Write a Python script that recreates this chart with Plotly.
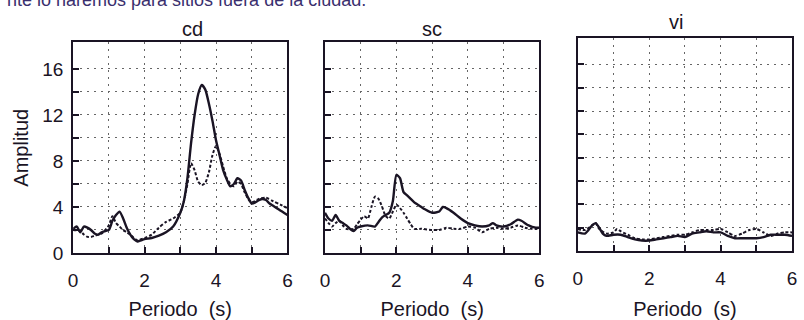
import plotly.graph_objects as go

# ---- data ----
cd_x_solid = [0, 0.1, 0.2, 0.3, 0.4, 0.5, 0.6, 0.7, 0.8, 0.9, 1.0, 1.1, 1.2, 1.3, 1.4, 1.5, 1.6, 1.7, 1.8, 1.9,
              2.0, 2.2, 2.4, 2.6, 2.8, 3.0, 3.1, 3.2, 3.3, 3.4, 3.5, 3.6, 3.7, 3.8, 3.9, 4.0, 4.1, 4.2, 4.3, 4.4,
              4.5, 4.6, 4.7, 4.8, 4.9, 5.0, 5.1, 5.2, 5.3, 5.4, 5.5, 5.6, 5.7, 5.8, 5.9, 6.0]
cd_y_solid = [2.1, 2.3, 1.8, 2.3, 2.2, 2.0, 1.7, 1.6, 1.8, 1.9, 2.0, 2.8, 3.3, 3.6, 3.0, 2.2, 1.6, 1.2, 1.0, 1.1,
              1.2, 1.3, 1.5, 1.8, 2.3, 3.5, 4.5, 6.5, 9.5, 12.0, 13.8, 14.6, 14.2, 13.0, 11.5, 9.8, 8.5, 7.2, 6.4, 5.8,
              6.0, 6.5, 6.3, 5.5, 4.8, 4.3, 4.4, 4.6, 4.7, 4.6, 4.3, 4.1, 3.9, 3.7, 3.5, 3.3]
cd_x_dash = [0, 0.2, 0.3, 0.4, 0.5, 0.6, 0.8, 1.0, 1.1, 1.2, 1.3, 1.4, 1.5, 1.6, 1.7, 1.8, 2.0, 2.2, 2.4, 2.6,
             2.8, 3.0, 3.1, 3.2, 3.3, 3.4, 3.5, 3.6, 3.7, 3.8, 3.9, 4.0, 4.1, 4.2, 4.3, 4.4, 4.5, 4.6, 4.7, 4.8,
             4.9, 5.0, 5.2, 5.4, 5.6, 5.8, 6.0]
cd_y_dash = [2.0, 1.9, 1.6, 1.4, 1.4, 1.5, 1.7, 2.4, 3.2, 2.6, 2.3, 2.0, 1.8, 1.6, 1.3, 1.1, 1.3, 1.6, 2.2, 2.7,
             3.0, 3.5, 4.5, 6.0, 7.8, 7.2, 6.2, 5.9, 6.1, 7.0, 8.5, 9.3, 8.6, 7.5, 6.5, 6.0, 5.8, 6.2, 6.0, 5.3,
             4.7, 4.4, 4.7, 4.8, 4.5, 4.2, 3.9]

sc_x_solid = [0, 0.1, 0.2, 0.3, 0.4, 0.5, 0.6, 0.7, 0.8, 0.9, 1.0, 1.2, 1.4, 1.5, 1.6, 1.7, 1.8, 1.9, 2.0, 2.1,
              2.2, 2.3, 2.4, 2.5, 2.6, 2.8, 3.0, 3.2, 3.3, 3.4, 3.6, 3.8, 4.0, 4.2, 4.4, 4.6, 4.7, 4.8, 5.0, 5.2,
              5.4, 5.5, 5.7, 5.9, 6.0]
sc_y_solid = [3.5, 3.0, 2.8, 3.3, 2.8, 2.6, 2.4, 2.1, 1.9, 2.2, 2.3, 2.4, 2.3, 2.7, 3.1, 3.3, 3.5, 4.5, 6.8, 6.5,
              5.3, 5.0, 4.7, 4.4, 4.2, 3.8, 3.5, 3.6, 4.0, 3.9, 3.5, 3.0, 2.6, 2.4, 2.3, 2.4, 2.6, 2.4, 2.3, 2.5,
              2.9, 2.8, 2.4, 2.2, 2.2]
sc_x_dash = [0, 0.1, 0.2, 0.3, 0.4, 0.5, 0.6, 0.8, 0.9, 1.0, 1.1, 1.2, 1.3, 1.4, 1.5, 1.6, 1.7, 1.8, 1.9, 2.0,
             2.1, 2.2, 2.3, 2.4, 2.5, 2.7, 3.0, 3.2, 3.4, 3.6, 3.8, 4.0, 4.2, 4.4, 4.6, 4.8, 5.0, 5.2, 5.4, 5.6,
             5.8, 6.0]
sc_y_dash = [3.0, 2.6, 2.3, 2.6, 2.8, 2.4, 2.1, 2.1, 2.5, 2.9, 3.2, 3.0, 4.0, 4.9, 4.7, 4.0, 3.2, 3.0, 3.6, 4.2,
             3.9, 3.5, 3.0, 2.5, 2.1, 2.1, 2.0, 2.0, 2.2, 2.1, 2.1, 2.3, 2.2, 1.8, 2.1, 2.2, 2.1, 2.2, 2.4, 2.2,
             2.1, 2.1]

vi_x_solid = [0, 0.2, 0.3, 0.4, 0.5, 0.6, 0.7, 0.8, 1.0, 1.2, 1.4, 1.6, 1.8, 2.0, 2.2, 2.4, 2.6, 2.8, 3.0, 3.2,
              3.4, 3.6, 3.8, 4.0, 4.2, 4.4, 4.6, 4.8, 5.0, 5.2, 5.4, 5.6, 5.8, 6.0]
vi_y_solid = [1.6, 1.5, 1.8, 2.2, 2.4, 2.0, 1.5, 1.3, 1.4, 1.4, 1.2, 1.0, 0.9, 0.9, 1.0, 1.1, 1.2, 1.3, 1.2, 1.5,
              1.6, 1.7, 1.6, 1.6, 1.3, 1.1, 1.1, 1.1, 1.1, 1.2, 1.4, 1.4, 1.4, 1.3]
vi_x_dash = [0, 0.2, 0.4, 0.5, 0.6, 0.8, 1.0, 1.1, 1.2, 1.4, 1.6, 1.8, 2.0, 2.4, 2.8, 3.0, 3.2, 3.4, 3.6, 3.8,
             4.0, 4.2, 4.4, 4.6, 4.8, 5.0, 5.2, 5.4, 5.6, 5.8, 6.0]
vi_y_dash = [1.9, 1.8, 2.2, 2.4, 1.9, 1.5, 1.6, 1.9, 1.7, 1.4, 1.1, 1.0, 1.0, 1.2, 1.4, 1.4, 1.6, 1.8, 1.8, 1.8,
             1.9, 1.6, 1.3, 1.5, 1.8, 1.9, 1.6, 1.3, 1.5, 1.6, 1.6]

panel_titles = ["cd", "sc", "vi"]
x_tick_vals = [0, 1, 2, 3, 4, 5, 6]
x_tick_text = ["0", "", "2", "", "4", "", "6"]
y_tick_vals = [0, 2, 4, 6, 8, 10, 12, 14, 16]
y_tick_text = ["0", "", "4", "", "8", "", "12", "", "16"]
x_title = "Periodo  (s)"
y_title = "Amplitud"
header_text = "nte lo haremos para sitios fuera de la ciudad."

FONT = "Liberation Sans, Arial, sans-serif"
INK = "#1a1424"

fig = go.Figure()

series = [
    (cd_x_solid, cd_y_solid, cd_x_dash, cd_y_dash),
    (sc_x_solid, sc_y_solid, sc_x_dash, sc_y_dash),
    (vi_x_solid, vi_y_solid, vi_x_dash, vi_y_dash),
]
x_domains = [[69 / 804, 286 / 804], [324 / 804, 541 / 804], [580 / 804, 797 / 804]]
y_domains = [[58 / 320, 276 / 320], [58 / 320, 276 / 320], [60 / 320, 281 / 320]]
title_y = [290 / 320, 290 / 320, 297 / 320]

for i, (xs, ys, xd, yd) in enumerate(series):
    n = "" if i == 0 else str(i + 1)
    fig.add_trace(go.Scatter(x=xd, y=yd, mode="lines", xaxis="x" + n, yaxis="y" + n,
                             line=dict(color=INK, width=2, dash="3px,2px", shape="spline", smoothing=0.6),
                             showlegend=False))
    fig.add_trace(go.Scatter(x=xs, y=ys, mode="lines", xaxis="x" + n, yaxis="y" + n,
                             line=dict(color=INK, width=2.4, shape="spline", smoothing=0.6),
                             showlegend=False))
    common = dict(showline=True, linecolor=INK, linewidth=2, mirror=True,
                  showgrid=True, gridcolor="#666666", griddash="2px,5px", gridwidth=1.2,
                  zeroline=False, ticks="inside", tickcolor=INK, tickwidth=2, ticklen=6,
                  tickfont=dict(family=FONT, size=19, color=INK))
    fig.layout["xaxis" + n] = dict(common, domain=x_domains[i], range=[0, 6], anchor="y" + n,
                                  tickvals=x_tick_vals, ticktext=x_tick_text, ticklabelstandoff=9,
                                  title=dict(text=x_title, font=dict(family=FONT, size=20, color=INK), standoff=14))
    ylay = dict(common, domain=y_domains[i], range=[0, 18.3], anchor="x" + n,
                tickvals=y_tick_vals)
    if i == 0:
        ylay.update(ticktext=y_tick_text, ticklabelstandoff=4,
                    title=dict(text=y_title, font=dict(family=FONT, size=20, color=INK), standoff=8))
    else:
        ylay.update(ticktext=[""] * len(y_tick_vals))
    fig.layout["yaxis" + n] = ylay
    fig.add_annotation(text=panel_titles[i], xref="paper", yref="paper",
                       x=(x_domains[i][0] + x_domains[i][1]) / 2, y=title_y[i],
                       yanchor="middle", showarrow=False,
                       font=dict(family=FONT, size=20, color=INK))

fig.add_annotation(text=header_text, xref="paper", yref="paper", x=0, y=1, xanchor="left",
                   yanchor="middle", showarrow=False,
                   font=dict(family=FONT, size=18, color="#3a2f6e"))

fig.update_layout(width=804, height=320, margin=dict(l=0, r=0, t=0, b=0),
                  paper_bgcolor="white", plot_bgcolor="white")

fig.write_html("out.html")
